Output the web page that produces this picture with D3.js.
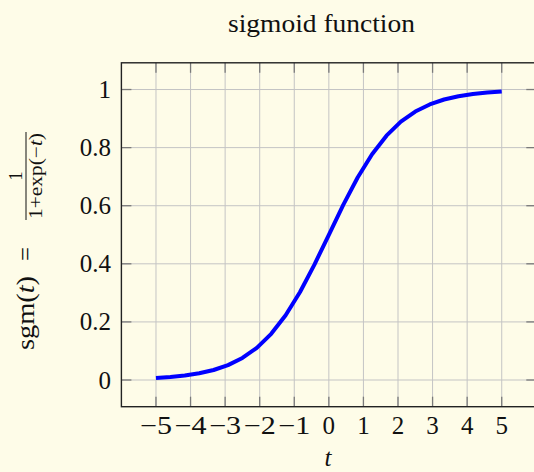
<!DOCTYPE html>
<html>
<head>
<meta charset="utf-8">
<script src="https://cdn.jsdelivr.net/npm/d3@7"></script>
<style>
  html, body { margin: 0; padding: 0; background: #fefce8; }
  svg { display: block; }
  text { font-family: "Liberation Serif", "DejaVu Serif", serif; fill: #111; }
</style>
</head>
<body>
<svg id="chart" width="534" height="472"></svg>
<script>
// samples of the plotted curve (25 samples over [-5, 5])
let tValues = [-5, -4.583, -4.167, -3.75, -3.333, -2.917, -2.5, -2.083, -1.667, -1.25, -0.833, -0.417,
    0, 0.417, 0.833, 1.25, 1.667, 2.083, 2.5, 2.917, 3.333, 3.75, 4.167, 4.583, 5];
let sgmValues = [0.0067, 0.0101, 0.0153, 0.0230, 0.0344, 0.0513, 0.0759, 0.1107, 0.1589, 0.2227, 0.3029, 0.3973,
    0.5, 0.6027, 0.6971, 0.7773, 0.8411, 0.8893, 0.9241, 0.9487, 0.9656, 0.9770, 0.9847, 0.9899, 0.9933];

let xTicks = [-5, -4, -3, -2, -1, 0, 1, 2, 3, 4, 5];
let yTicks = [0, 0.2, 0.4, 0.6, 0.8, 1];
let xDomain = [-6, 6];
let yDomain = [-0.0919, 1.092];

let svg = d3.select("#chart");
let plotLeft = 121.4, plotRight = 536.3, plotTop = 62.8, plotBottom = 406.7;

let x = d3.scaleLinear().domain(xDomain).range([plotLeft, plotRight]);
let y = d3.scaleLinear().domain(yDomain).range([plotBottom, plotTop]);

// title
svg.append("text")
    .attr("x", 321.5)
    .attr("y", 32)
    .attr("text-anchor", "middle")
    .attr("font-size", 25.5)
    .attr("textLength", 187)
    .attr("lengthAdjust", "spacingAndGlyphs")
    .text("sigmoid function");

// grid
let grid = svg.append("g").attr("stroke", "#c4c4c4").attr("stroke-width", 1);
grid.selectAll(".gx").data(xTicks).enter()
    .append("line")
    .attr("x1", d => x(d)).attr("x2", d => x(d))
    .attr("y1", plotTop).attr("y2", plotBottom);
grid.selectAll(".gy").data(yTicks).enter()
    .append("line")
    .attr("y1", d => y(d)).attr("y2", d => y(d))
    .attr("x1", plotLeft).attr("x2", plotRight);

// ticks, inside on all four sides
let tickLen = 10;
let ticks = svg.append("g").attr("stroke", "#7a7a7a").attr("stroke-width", 1.3);
xTicks.forEach(function (d) {
    ticks.append("line").attr("x1", x(d)).attr("x2", x(d)).attr("y1", plotBottom).attr("y2", plotBottom - tickLen);
    ticks.append("line").attr("x1", x(d)).attr("x2", x(d)).attr("y1", plotTop).attr("y2", plotTop + tickLen);
});
yTicks.forEach(function (d) {
    ticks.append("line").attr("y1", y(d)).attr("y2", y(d)).attr("x1", plotLeft).attr("x2", plotLeft + tickLen);
    ticks.append("line").attr("y1", y(d)).attr("y2", y(d)).attr("x1", plotRight).attr("x2", plotRight - tickLen);
});

// curve
let line = d3.line()
    .x((d, i) => x(tValues[i]))
    .y(d => y(d));

svg.append("path")
    .datum(sgmValues)
    .attr("fill", "none")
    .attr("stroke", "#0000ff")
    .attr("stroke-width", 4)
    .attr("stroke-linejoin", "round")
    .attr("d", line);

// frame
svg.append("rect")
    .attr("x", plotLeft).attr("y", plotTop)
    .attr("width", plotRight - plotLeft).attr("height", plotBottom - plotTop)
    .attr("fill", "none")
    .attr("stroke", "#222")
    .attr("stroke-width", 1.4);

// tick labels
let fmtX = d => d < 0 ? "\u2212" + Math.abs(d) : String(d);
svg.selectAll(".xl").data(xTicks).enter()
    .append("text")
    .attr("x", d => x(d))
    .attr("y", 434)
    .attr("text-anchor", "middle")
    .attr("font-size", 25)
    .each(function (d) {
        // wider minus sign, as in the TeX original
        if (d < 0) d3.select(this).attr("textLength", 32).attr("lengthAdjust", "spacingAndGlyphs");
    })
    .text(fmtX);

svg.selectAll(".yl").data(yTicks).enter()
    .append("text")
    .attr("x", 111)
    .attr("y", d => y(d) + 8.5)
    .attr("text-anchor", "end")
    .attr("font-size", 25)
    .text(d => String(d));

// x label
svg.append("text")
    .attr("x", 328)
    .attr("y", 466)
    .attr("text-anchor", "middle")
    .attr("font-size", 25)
    .attr("font-style", "italic")
    .text("t");

// y label: sgm(t) = 1 / (1+exp(-t)), rotated
let yl = svg.append("g").attr("transform", "translate(34,241) rotate(-90)");
let main = yl.append("text")
    .attr("x", -109)
    .attr("y", 0)
    .attr("font-size", 25)
    .attr("textLength", 74)
    .attr("lengthAdjust", "spacingAndGlyphs");
main.append("tspan").text("sgm(");
main.append("tspan").attr("font-style", "italic").text("t");
main.append("tspan").text(")");

yl.append("text")
    .attr("x", -13)
    .attr("y", 0)
    .attr("text-anchor", "middle")
    .attr("font-size", 25)
    .text("=");

yl.append("line")
    .attr("x1", 21).attr("x2", 109)
    .attr("y1", -8).attr("y2", -8)
    .attr("stroke", "#111")
    .attr("stroke-width", 1);

yl.append("text")
    .attr("x", 65)
    .attr("y", -12)
    .attr("text-anchor", "middle")
    .attr("font-size", 18)
    .text("1");

let den = yl.append("text")
    .attr("x", 65)
    .attr("y", 8)
    .attr("text-anchor", "middle")
    .attr("font-size", 18)
    .attr("textLength", 86)
    .attr("lengthAdjust", "spacingAndGlyphs");
den.append("tspan").text("1+exp(\u2212");
den.append("tspan").attr("font-style", "italic").text("t");
den.append("tspan").text(")");
</script>
</body>
</html>
